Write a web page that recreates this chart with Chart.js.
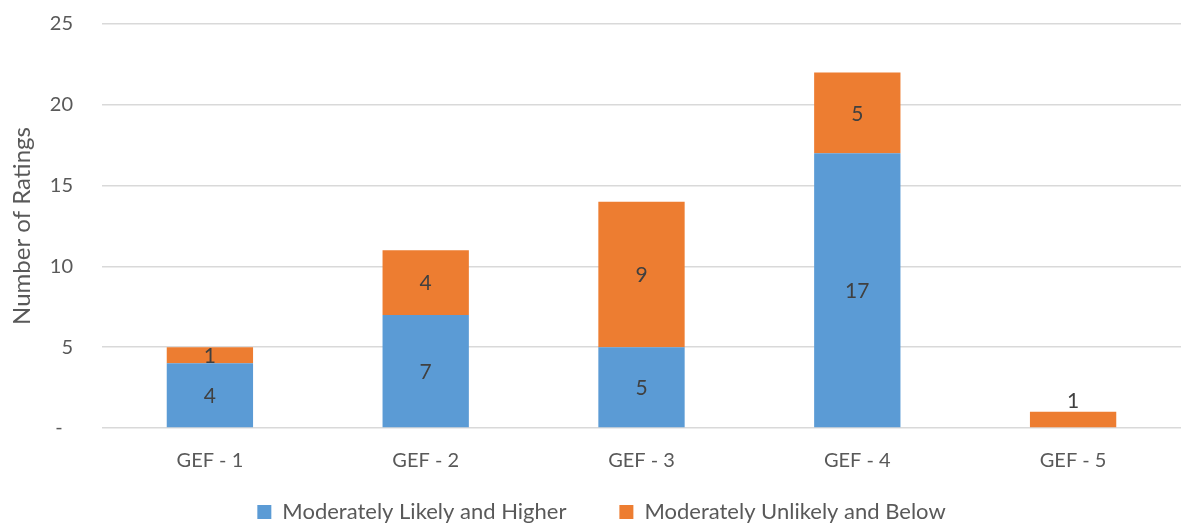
<!DOCTYPE html>
<html>
<head>
<meta charset="utf-8">
<script src="https://cdn.jsdelivr.net/npm/chart.js@4"></script>
<style>
  html, body { margin: 0; padding: 0; background: #fff; }
  #wrap { width: 1181px; height: 523px; }
</style>
</head>
<body>
<div id="wrap"><canvas id="myChart"></canvas></div>
<script>
const categories = ['GEF - 1', 'GEF - 2', 'GEF - 3', 'GEF - 4', 'GEF - 5'];
const likelyHigher = [4, 7, 5, 17, 0];
const unlikelyBelow = [1, 4, 9, 5, 1];
const yTicks = [0, 5, 10, 15, 20, 25];

const FONT = 'Lato, "Open Sans", sans-serif';

// simple data labels, centred in each segment
const segLabels = {
  id: 'segLabels',
  afterDatasetsDraw(chart) {
    const c = chart.ctx;
    c.save();
    c.font = '21px ' + FONT;
    c.fillStyle = '#404040';
    c.textAlign = 'center';
    c.textBaseline = 'middle';
    chart.data.datasets.forEach((ds, di) => {
      const meta = chart.getDatasetMeta(di);
      meta.data.forEach((bar, i) => {
        const v = ds.data[i];
        if (!v) return;
        let y = (bar.y + bar.base) / 2;
        // lone thin segment: Excel put the label above it
        const others = chart.data.datasets.filter((d, k) => k !== di).every(d => !d.data[i]);
        if (others) y = bar.y - 12;
        c.fillText(String(v), bar.x, y + 1);
      });
    });
    c.restore();
  }
};

// legend: wide gap between items, but drawn higher than its padding would put it
const legendFix = {
  id: 'legendFix',
  beforeUpdate(chart) {
    const lg = chart.legend;
    if (lg && !lg._patched) {
      const fit = lg.fit, draw = lg.draw;
      lg.fit = function () { fit.call(this); this.height = 45; };
      lg.draw = function () {
        const t = this.top, l = this.left, r = this.right;
        this.top = t - 30;
        this.left = l + 11;
        this.right = r + 11;
        draw.call(this);
        this.top = t;
        this.left = l;
        this.right = r;
      };
      lg._patched = true;
    }
  }
};

const ctx = document.getElementById('myChart');

new Chart(ctx, {
  type: 'bar',
  data: {
    labels: categories,
    datasets: [
      {
        label: 'Moderately Likely and Higher',
        data: likelyHigher,
        backgroundColor: '#5B9BD5',
        categoryPercentage: 1,
        barPercentage: 0.4
      },
      {
        label: 'Moderately Unlikely and Below',
        data: unlikelyBelow,
        backgroundColor: '#ED7D31',
        categoryPercentage: 1,
        barPercentage: 0.4
      }
    ]
  },
  options: {
    responsive: true,
    maintainAspectRatio: false,
    animation: false,
    layout: { padding: { top: 24, right: 0, left: 0, bottom: 0 } },
    plugins: {
      tooltip: { enabled: false },
      legend: {
        position: 'bottom',
        labels: {
          color: '#595959',
          font: { family: FONT, size: 22 },
          boxWidth: 14,
          boxHeight: 14,
          padding: 53
        }
      }
    },
    scales: {
      x: {
        stacked: true,
        grid: { display: false, drawTicks: false },
        border: { display: false },
        ticks: {
          color: '#595959',
          font: { family: FONT, size: 20 },
          padding: 21
        },
        afterFit(axis) { axis.height = 50; }
      },
      y: {
        stacked: true,
        min: 0,
        max: 25,
        afterBuildTicks(axis) { axis.ticks = yTicks.map(v => ({ value: v })); },
        grid: {
          color: '#D9D9D9',
          lineWidth: 1.5,
          drawTicks: true,
          tickLength: 29,
          tickColor: 'rgba(0,0,0,0)'
        },
        border: { display: false },
        ticks: {
          color: '#595959',
          font: { family: FONT, size: 20 },
          padding: 0,
          callback: (v) => v === 0 ? '-  ' : v
        },
        title: {
          display: true,
          text: 'Number of Ratings',
          color: '#595959',
          font: { family: FONT, size: 24 },
          padding: { top: 8, bottom: 0 }
        },
        afterFit(axis) { axis.width = 102; }
      }
    }
  },
  plugins: [segLabels, legendFix]
});
</script>
</body>
</html>
